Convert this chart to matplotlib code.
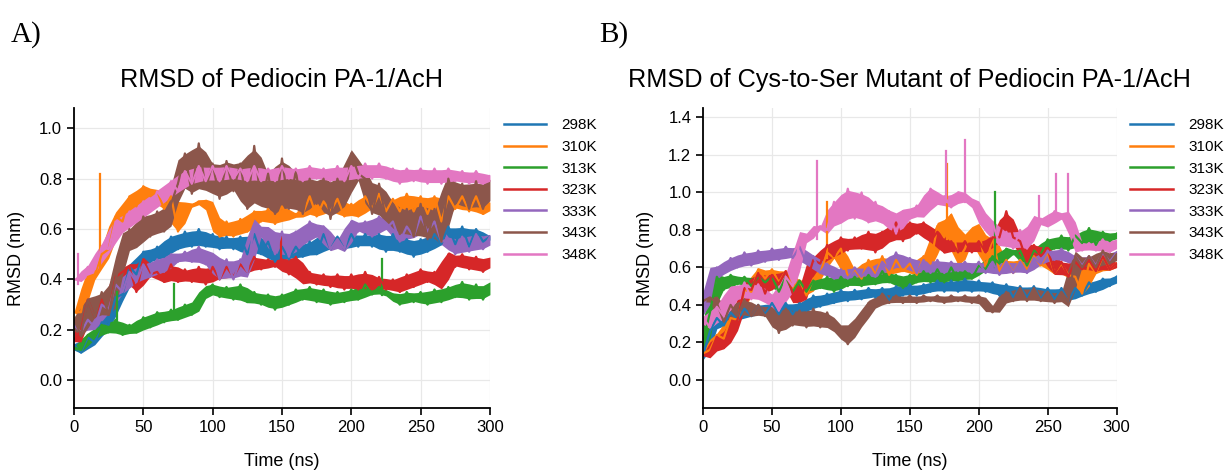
import numpy as np
import matplotlib
matplotlib.use("Agg")
import matplotlib.pyplot as plt

plt.rcParams['font.family'] = ['Liberation Sans', 'DejaVu Sans']

# Time axis (ns), band values read every 5 ns (alternating upper / lower edge of the noisy trace)
time_ns = np.arange(0, 301, 5)
labels = ['298K', '310K', '313K', '323K', '333K', '343K', '348K']

# ---- Panel A: Pediocin PA-1/AcH ----
a_298 = [0.14, 0.11, 0.17, 0.15, 0.23, 0.22, 0.33, 0.34, 0.45, 0.42, 0.51, 0.47, 0.53, 0.49, 0.57, 0.52,
         0.59, 0.53, 0.60, 0.53, 0.58, 0.52, 0.57, 0.52, 0.57, 0.50, 0.58, 0.50, 0.55, 0.47, 0.53, 0.48,
         0.53, 0.49, 0.55, 0.50, 0.58, 0.52, 0.57, 0.52, 0.58, 0.53, 0.58, 0.53, 0.58, 0.51, 0.58, 0.51,
         0.56, 0.49, 0.56, 0.51, 0.58, 0.54, 0.61, 0.54, 0.61, 0.53, 0.60, 0.55, 0.57]
a_310 = [0.27, 0.27, 0.41, 0.42, 0.50, 0.52, 0.65, 0.63, 0.73, 0.69, 0.77, 0.73, 0.75, 0.68, 0.73, 0.59,
         0.69, 0.69, 0.71, 0.71, 0.66, 0.57, 0.63, 0.57, 0.64, 0.59, 0.67, 0.63, 0.68, 0.62, 0.69, 0.64,
         0.66, 0.66, 0.73, 0.65, 0.71, 0.67, 0.72, 0.65, 0.70, 0.65, 0.73, 0.68, 0.74, 0.67, 0.72, 0.67,
         0.74, 0.67, 0.73, 0.66, 0.73, 0.63, 0.73, 0.68, 0.73, 0.67, 0.73, 0.66, 0.70]
a_313 = [0.13, 0.12, 0.18, 0.17, 0.22, 0.19, 0.24, 0.18, 0.22, 0.19, 0.25, 0.21, 0.27, 0.23, 0.28, 0.24,
         0.30, 0.26, 0.32, 0.35, 0.38, 0.33, 0.37, 0.32, 0.38, 0.31, 0.35, 0.30, 0.34, 0.28, 0.34, 0.30,
         0.36, 0.32, 0.37, 0.31, 0.36, 0.30, 0.35, 0.31, 0.36, 0.32, 0.38, 0.34, 0.37, 0.34, 0.34, 0.30,
         0.35, 0.31, 0.35, 0.30, 0.36, 0.31, 0.37, 0.33, 0.39, 0.32, 0.38, 0.32, 0.38]
a_323 = [0.16, 0.20, 0.32, 0.25, 0.32, 0.27, 0.41, 0.43, 0.45, 0.35, 0.48, 0.42, 0.43, 0.39, 0.46, 0.39,
         0.44, 0.39, 0.45, 0.38, 0.45, 0.40, 0.45, 0.41, 0.46, 0.43, 0.49, 0.44, 0.48, 0.45, 0.48, 0.42,
         0.49, 0.39, 0.43, 0.38, 0.42, 0.37, 0.42, 0.36, 0.42, 0.36, 0.43, 0.36, 0.41, 0.36, 0.40, 0.35,
         0.42, 0.37, 0.44, 0.39, 0.43, 0.37, 0.50, 0.45, 0.50, 0.44, 0.49, 0.43, 0.48]
a_333 = [0.22, 0.19, 0.24, 0.21, 0.30, 0.28, 0.38, 0.35, 0.43, 0.39, 0.46, 0.41, 0.48, 0.43, 0.50, 0.47,
         0.51, 0.47, 0.53, 0.46, 0.50, 0.40, 0.48, 0.40, 0.48, 0.43, 0.62, 0.57, 0.60, 0.50, 0.59, 0.49,
         0.59, 0.54, 0.63, 0.57, 0.61, 0.52, 0.56, 0.52, 0.63, 0.59, 0.63, 0.57, 0.65, 0.60, 0.63, 0.55,
         0.61, 0.57, 0.65, 0.59, 0.63, 0.55, 0.56, 0.50, 0.57, 0.51, 0.58, 0.52, 0.57]
a_343 = [0.24, 0.18, 0.32, 0.25, 0.35, 0.26, 0.40, 0.50, 0.60, 0.53, 0.65, 0.57, 0.67, 0.59, 0.70, 0.78,
         0.90, 0.74, 0.94, 0.76, 0.86, 0.72, 0.87, 0.75, 0.86, 0.68, 0.93, 0.70, 0.82, 0.66, 0.88, 0.68,
         0.83, 0.66, 0.80, 0.70, 0.80, 0.64, 0.80, 0.70, 0.90, 0.82, 0.80, 0.66, 0.78, 0.64, 0.70, 0.58,
         0.68, 0.57, 0.70, 0.56, 0.68, 0.55, 0.80, 0.70, 0.78, 0.68, 0.79, 0.68, 0.78]
a_348 = [0.40, 0.40, 0.45, 0.44, 0.53, 0.52, 0.63, 0.59, 0.67, 0.63, 0.71, 0.67, 0.75, 0.71, 0.79, 0.75,
         0.83, 0.78, 0.85, 0.79, 0.85, 0.79, 0.85, 0.80, 0.84, 0.79, 0.85, 0.79, 0.84, 0.79, 0.85, 0.80,
         0.84, 0.79, 0.85, 0.80, 0.84, 0.79, 0.85, 0.79, 0.85, 0.80, 0.86, 0.80, 0.86, 0.80, 0.84, 0.78,
         0.84, 0.79, 0.84, 0.78, 0.84, 0.78, 0.84, 0.79, 0.83, 0.78, 0.83, 0.78, 0.81]

# isolated spikes in panel A: series index, time (ns), foot and tip (nm)
a_spike_series = [1, 2, 2, 2, 3, 6]
a_spike_time = [18.5, 31, 72, 222, 149, 3]
a_spike_foot = [0.45, 0.22, 0.26, 0.34, 0.45, 0.38]
a_spike_tip = [0.82, 0.35, 0.38, 0.48, 0.57, 0.50]

# ---- Panel B: Cys-to-Ser mutant ----
b_298 = [0.13, 0.26, 0.33, 0.29, 0.36, 0.32, 0.38, 0.34, 0.40, 0.35, 0.41, 0.35, 0.41, 0.35, 0.41, 0.37,
         0.45, 0.39, 0.46, 0.41, 0.48, 0.42, 0.48, 0.43, 0.49, 0.44, 0.49, 0.42, 0.50, 0.45, 0.51, 0.45,
         0.51, 0.47, 0.53, 0.47, 0.53, 0.47, 0.54, 0.47, 0.53, 0.47, 0.52, 0.45, 0.51, 0.44, 0.50, 0.44,
         0.50, 0.43, 0.49, 0.43, 0.49, 0.42, 0.49, 0.45, 0.52, 0.47, 0.54, 0.50, 0.55]
b_310 = [0.14, 0.16, 0.24, 0.22, 0.33, 0.32, 0.48, 0.47, 0.59, 0.54, 0.59, 0.52, 0.58, 0.49, 0.53, 0.45,
         0.54, 0.57, 0.68, 0.65, 0.70, 0.55, 0.59, 0.54, 0.64, 0.56, 0.66, 0.56, 0.64, 0.58, 0.62, 0.56,
         0.66, 0.62, 0.82, 0.76, 0.88, 0.64, 0.70, 0.80, 0.80, 0.60, 0.76, 0.58, 0.64, 0.57, 0.64, 0.59,
         0.66, 0.61, 0.68, 0.57, 0.62, 0.56, 0.55, 0.46, 0.62, 0.57, 0.66, 0.59, 0.62]
b_313 = [0.20, 0.36, 0.55, 0.48, 0.56, 0.51, 0.55, 0.50, 0.55, 0.52, 0.55, 0.47, 0.55, 0.47, 0.53, 0.47,
         0.53, 0.49, 0.55, 0.47, 0.55, 0.50, 0.55, 0.50, 0.56, 0.51, 0.58, 0.52, 0.56, 0.49, 0.56, 0.52,
         0.58, 0.52, 0.59, 0.52, 0.60, 0.53, 0.58, 0.54, 0.61, 0.59, 0.66, 0.62, 0.70, 0.67, 0.69, 0.61,
         0.69, 0.67, 0.75, 0.70, 0.77, 0.69, 0.77, 0.73, 0.81, 0.72, 0.79, 0.74, 0.78]
b_323 = [0.13, 0.14, 0.23, 0.17, 0.28, 0.32, 0.49, 0.48, 0.57, 0.46, 0.56, 0.51, 0.58, 0.46, 0.42, 0.52,
         0.64, 0.62, 0.72, 0.66, 0.76, 0.69, 0.76, 0.70, 0.79, 0.68, 0.79, 0.74, 0.84, 0.74, 0.84, 0.78,
         0.84, 0.74, 0.79, 0.68, 0.74, 0.68, 0.74, 0.68, 0.74, 0.68, 0.76, 0.76, 0.90, 0.76, 0.74, 0.63,
         0.72, 0.66, 0.70, 0.57, 0.63, 0.55, 0.63, 0.59, 0.64, 0.58, 0.66, 0.59, 0.62]
b_333 = [0.37, 0.52, 0.60, 0.57, 0.65, 0.60, 0.68, 0.61, 0.69, 0.63, 0.70, 0.64, 0.71, 0.65, 0.71, 0.62,
         0.66, 0.57, 0.62, 0.54, 0.59, 0.54, 0.60, 0.55, 0.60, 0.55, 0.63, 0.59, 0.68, 0.60, 0.65, 0.57,
         0.64, 0.57, 0.64, 0.57, 0.63, 0.58, 0.63, 0.57, 0.63, 0.57, 0.63, 0.56, 0.63, 0.57, 0.63, 0.57,
         0.65, 0.62, 0.69, 0.64, 0.70, 0.63, 0.66, 0.61, 0.66, 0.61, 0.68, 0.63, 0.68]
b_343 = [0.42, 0.44, 0.41, 0.31, 0.40, 0.34, 0.43, 0.34, 0.40, 0.34, 0.38, 0.25, 0.38, 0.29, 0.37, 0.28,
         0.38, 0.28, 0.36, 0.27, 0.28, 0.19, 0.31, 0.30, 0.41, 0.39, 0.46, 0.41, 0.45, 0.41, 0.45, 0.41,
         0.45, 0.42, 0.45, 0.41, 0.45, 0.42, 0.45, 0.41, 0.45, 0.40, 0.36, 0.40, 0.47, 0.42, 0.49, 0.42,
         0.49, 0.42, 0.47, 0.41, 0.47, 0.42, 0.66, 0.60, 0.66, 0.60, 0.69, 0.62, 0.67]
b_348 = [0.33, 0.28, 0.39, 0.34, 0.49, 0.43, 0.52, 0.43, 0.51, 0.42, 0.45, 0.37, 0.55, 0.50, 0.75, 0.74,
         0.80, 0.82, 0.80, 0.95, 0.84, 1.02, 0.86, 1.00, 0.84, 0.95, 0.84, 0.90, 0.78, 0.90, 0.86, 0.93,
         0.88, 1.02, 0.94, 0.98, 0.92, 1.00, 0.98, 0.94, 0.92, 0.80, 0.84, 0.72, 0.79, 0.70, 0.80, 0.70,
         0.84, 0.86, 0.82, 0.90, 0.86, 0.88, 0.74, 0.69, 0.73, 0.69, 0.75, 0.68, 0.74]

# isolated spikes in panel B
b_spike_series = [1, 1, 2, 6, 6, 6, 6, 6, 6]
b_spike_time = [90, 177, 212, 83, 176, 190, 244, 256, 265]
b_spike_foot = [0.65, 0.75, 0.60, 0.75, 0.95, 0.95, 0.85, 0.85, 0.85]
b_spike_tip = [0.95, 1.15, 1.00, 1.17, 1.22, 1.28, 0.98, 1.10, 1.10]

series_a = [a_298, a_310, a_313, a_323, a_333, a_343, a_348]
series_b = [b_298, b_310, b_313, b_323, b_333, b_343, b_348]
colors = plt.rcParams['axes.prop_cycle'].by_key()['color'][:7]

fig = plt.figure(figsize=(12.27, 4.70), dpi=100)
ax1 = fig.add_axes([0.0603, 0.132, 0.339, 0.638])
ax2 = fig.add_axes([0.573, 0.132, 0.337, 0.638])


def draw_traces(ax, series, sp_idx, sp_t, sp_foot, sp_tip):
    for k, (vals, lab) in enumerate(zip(series, labels)):
        v = np.asarray(vals)
        prev = np.concatenate([v[:1], v[:-1]])
        nxt = np.concatenate([v[1:], v[-1:]])
        # solid core of the noisy band, zigzag teeth stick out of it
        mid = (prev + 2 * v + nxt) / 4
        half = (np.maximum(np.maximum(prev, v), nxt) - np.minimum(np.minimum(prev, v), nxt)) / 2
        ax.fill_between(time_ns, mid - 0.85 * half, mid + 0.85 * half, color=colors[k], linewidth=0)
        ax.plot(time_ns, v, color=colors[k], linewidth=1.6, label=lab)
        for s, t, f, p in zip(sp_idx, sp_t, sp_foot, sp_tip):
            if s == k:
                ax.plot([t, t], [f, p], color=colors[k], linewidth=1.6)


def style_axis(ax, title, ylim, yticks):
    ax.set_xlim(0, 300)
    ax.set_ylim(*ylim)
    ax.set_xticks(np.arange(0, 301, 50))
    ax.set_yticks(yticks)
    ax.set_yticklabels([f'{v:.1f}' for v in yticks])
    ax.grid(True, color='#e8e8e8', linewidth=0.9)
    ax.set_axisbelow(True)
    ax.spines['top'].set_visible(False)
    ax.spines['right'].set_visible(False)
    ax.spines['left'].set_linewidth(1.3)
    ax.spines['bottom'].set_linewidth(1.3)
    ax.tick_params(labelsize=12, length=5, width=1.2)
    ax.set_xlabel('Time (ns)', fontsize=13, labelpad=13)
    ax.set_ylabel('RMSD (nm)', fontsize=13, labelpad=10)
    ax.set_title(title, fontsize=18.2, pad=15)
    leg = ax.legend(loc='upper left', bbox_to_anchor=(1.0, 1.012), frameon=False,
                    fontsize=11, handlelength=2.8, handletextpad=1.0, labelspacing=0.5)
    for line in leg.get_lines():
        line.set_linewidth(1.8)


draw_traces(ax1, series_a, a_spike_series, a_spike_time, a_spike_foot, a_spike_tip)
draw_traces(ax2, series_b, b_spike_series, b_spike_time, b_spike_foot, b_spike_tip)

style_axis(ax1, 'RMSD of Pediocin PA-1/AcH', (-0.11, 1.08), np.arange(0, 1.01, 0.2))
style_axis(ax2, 'RMSD of Cys-to-Ser Mutant of Pediocin PA-1/AcH', (-0.15, 1.45), np.arange(0, 1.41, 0.2))

fig.text(0.009, 0.912, 'A)', fontsize=21, family='Liberation Serif')
fig.text(0.488, 0.912, 'B)', fontsize=21, family='Liberation Serif')

fig.savefig('out.png', dpi=100)
